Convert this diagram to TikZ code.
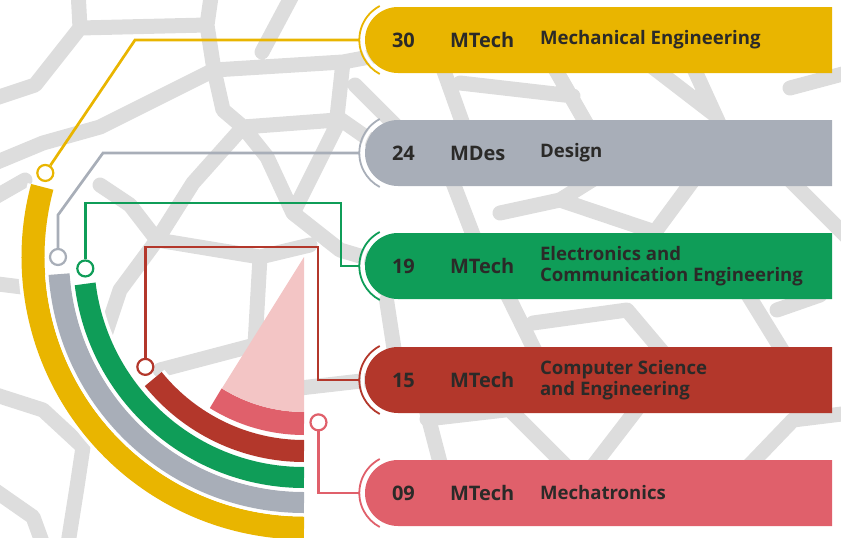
\documentclass[tikz,border=0pt]{standalone}
\usepackage{fontspec}
\setmainfont{Open Sans}
\usetikzlibrary{positioning,shapes.misc}
\definecolor{ochre}{HTML}{E9B500}
\definecolor{slate}{HTML}{A8AEB8}
\definecolor{emerald}{HTML}{0F9D58}
\definecolor{brick}{HTML}{B3372B}
\definecolor{rose}{HTML}{E0606B}
\definecolor{blush}{HTML}{F3C5C5}
\definecolor{net}{HTML}{DDDDDD}
\definecolor{ink}{HTML}{2B2A28}
\begin{document}
\begin{tikzpicture}[x=1pt,y=1pt,yscale=-1]
            \tikzset{Bar/.style={%
                    shape=rounded rectangle,%
                    rounded rectangle right arc=none,%
                    fill=#1,%
                    minimum width=467pt,%
                    minimum height=66pt,%
                    inner sep=0pt,%
                },
                Dot/.style={circle,draw=#1,fill=white,line width=2.2pt,minimum size=16pt,inner sep=0pt},
                Link/.style={draw=#1,line width=2.7pt},
                Num/.style={text=ink,font=\fontsize{20}{22}\selectfont\bfseries,inner sep=0pt},
                Desc/.style={text=ink,font=\fontsize{18.6}{21}\selectfont\bfseries,align=left,inner sep=0pt},
                Net/.style={draw=net,line width=15pt,line cap=round,line join=round}}

                \useasboundingbox (0,0) rectangle (841,538);
                \clip (0,0) rectangle (841,538);

                % background network
                \draw[Net] (78,-10) -- (80,28) -- (35,85) -- (-10,100)
                    (80,28) -- (207,25) -- (212,-10)
                    (207,25) -- (214,70) -- (100,127) -- (43,143) -- (-10,165)
                    (214,70) -- (343,62) -- (380,55)
                    (295,-10) -- (262,52)
                    (343,62) -- (337,117) -- (370,140)
                    (214,70) -- (223,110) -- (243,127) -- (337,120)
                    (243,127) -- (193,183) -- (157,240)
                    (243,127) -- (267,157) -- (293,213) -- (337,125)
                    (293,213) -- (340,250) -- (380,262)
                    (157,240) -- (260,257) -- (310,245)
                    (260,257) -- (255,345) -- (160,370)
                    (157,240) -- (120,290) -- (105,335)
                    (157,240) -- (130,205) -- (100,185)
                    (-10,283) -- (30,288)
                    (-10,200) -- (25,180)
                    (-10,393) -- (43,410) -- (83,447) -- (77,487) -- (67,550)
                    (-10,487) -- (33,517) -- (45,550)
                    (300,388) -- (370,380)
                    (355,85) -- (395,125);
                \draw[Net] (440,60) -- (465,130)
                    (460,83) -- (573,96)
                    (550,60) -- (590,130)
                    (650,65) -- (715,115)
                    (690,60) -- (722,130)
                    (790,88) -- (850,72)
                    (450,175) -- (475,240)
                    (500,213) -- (560,200) -- (600,175)
                    (560,200) -- (655,232) -- (697,175)
                    (785,175) -- (850,240)
                    (385,290) -- (395,355)
                    (505,290) -- (537,355)
                    (533,323) -- (627,310) -- (665,355)
                    (745,290) -- (785,355)
                    (777,310) -- (820,295)
                    (425,405) -- (442,470)
                    (427,419) -- (505,410)
                    (505,405) -- (570,470)
                    (590,470) -- (640,405)
                    (745,470) -- (793,420) -- (850,413);

                % quarter rings
                \coordinate (C) at (304,257);
                \foreach \r/\a/\w/\c in {271/195/23/ochre,245.5/176/21/slate,220.5/173/21/emerald,194/141/22/brick,166.5/122/23/rose}{
                    \draw[white,line width=\w pt+7pt] ([shift={(\a:\r)}]C) arc[start angle=\a,end angle=90,radius=\r];
                    \draw[\c,line width=\w pt] ([shift={(\a:\r)}]C) arc[start angle=\a,end angle=90,radius=\r];
                }
                \fill[blush] (C) -- ([shift={(122:155)}]C) arc[start angle=122,end angle=90,radius=155] -- cycle;

                % bars
                \node[Bar=ochre] (b30) at (598.5,40) {};
                \node[Bar=slate] (b24) at (598.5,153) {};
                \node[Bar=emerald] (b19) at (598.5,266) {};
                \node[Bar=brick] (b15) at (598.5,380) {};
                \node[Bar=rose] (b09) at (598.5,493) {};
                \foreach \b/\c in {b30/ochre,b24/slate,b19/emerald,b15/brick,b09/rose}{
                    \draw[white,line width=3pt] ([xshift=33pt]\b.west) ++(240:35.5) arc[start angle=240,end angle=120,radius=35.5];
                    \draw[\c,line width=1.8pt] ([xshift=33pt]\b.west) ++(242:38.5) arc[start angle=242,end angle=118,radius=38.5];
                }

                \node[Num,right=27pt of b30.west] (n30) {30};
                \node[Num,right=85pt of b30.west] (m30) {MTech};
                \node[Desc,right=175pt of b30.west] (t30) {Mechanical Engineering};
                \node[Num,right=27pt of b24.west] (n24) {24};
                \node[Num,right=85pt of b24.west] (m24) {MDes};
                \node[Desc,right=175pt of b24.west] (t24) {Design};
                \node[Num,right=27pt of b19.west] (n19) {19};
                \node[Num,right=85pt of b19.west] (m19) {MTech};
                \node[Desc,right=175pt of b19.west] (t19) {Electronics and\\Communication Engineering};
                \node[Num,right=27pt of b15.west] (n15) {15};
                \node[Num,right=85pt of b15.west] (m15) {MTech};
                \node[Desc,right=175pt of b15.west] (t15) {Computer Science\\and Engineering};
                \node[Num,right=27pt of b09.west] (n09) {09};
                \node[Num,right=85pt of b09.west] (m09) {MTech};
                \node[Desc,right=175pt of b09.west] (t09) {Mechatronics};

                % dots and links
                \node[Dot=ochre] (d30) at ([shift={(198:272)}]C) {};
                \node[Dot=slate] (d24) at ([shift={(180:246)}]C) {};
                \node[Dot=emerald] (d19) at ([shift={(177:219)}]C) {};
                \node[Dot=brick] (d15) at ([shift={(145.3:193)}]C) {};
                \node[Dot=rose] (d09) at ([shift={(85:166)}]C) {};

                \draw[Link=ochre] (d30) -- (135,40) -- ([xshift=-6pt]b30.west);
                \draw[Link=slate] (d24) -- (58,215) -- (103,153) -- ([xshift=-6pt]b24.west);
                \draw[Link=emerald] (d19) |- (341,203) |- ([xshift=-6pt]b19.west);
                \draw[Link=brick] (d15) |- (318,247) |- ([xshift=-6pt]b15.west);
                \draw[Link=rose] (d09) |- ([xshift=-6pt]b09.west);
        \end{tikzpicture}
\end{document}
